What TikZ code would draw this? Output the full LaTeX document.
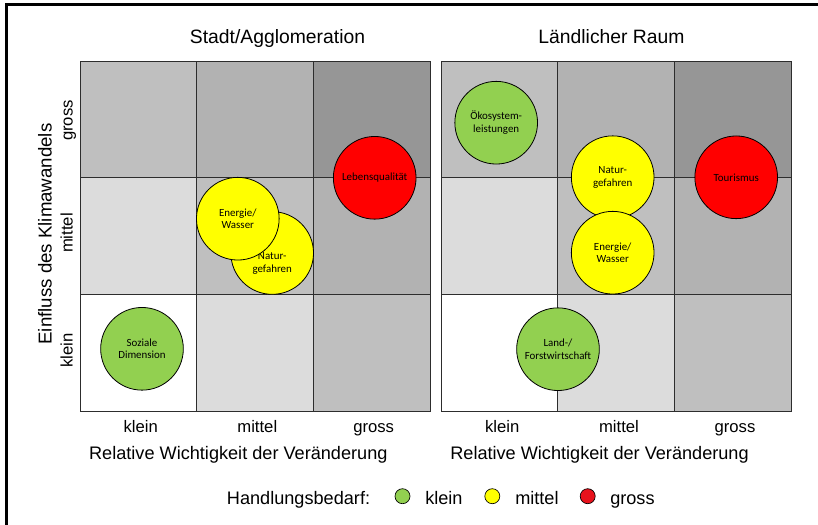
\documentclass[tikz,border=0pt]{standalone}
\usepackage{fontspec}
\setmainfont{Liberation Sans}
\newfontfamily\circfont{Carlito}
\definecolor{cgreen}{RGB}{146,208,80}
\definecolor{cyellow}{RGB}{255,255,0}
\definecolor{cred}{RGB}{255,0,0}
\definecolor{lred}{RGB}{232,18,28}
\definecolor{lv0}{RGB}{255,255,255}
\definecolor{lv1}{RGB}{220,220,220}
\definecolor{lv2}{RGB}{191,191,191}
\definecolor{lv3}{RGB}{178,178,178}
\definecolor{lv4}{RGB}{150,150,150}
\definecolor{gridline}{RGB}{45,45,45}
\begin{document}
\begin{tikzpicture}[x=0.75pt,y=-0.75pt,
  cellbox/.style={rectangle, draw=gridline, line width=0.75pt, minimum width=87.5pt, minimum height=87.5pt, inner sep=0pt, outer sep=0pt},
  bubble/.style={circle, draw=black, line width=0.6pt, minimum size=62pt, inner sep=0pt, font=\circfont\fontsize{8.2}{9.6}\selectfont, align=center, text=black},
  bubbletext/.style={inner sep=0pt, font=\circfont\fontsize{8.2}{9.6}\selectfont, align=center, text=black},
  title/.style={anchor=base, inner sep=0pt, font=\fontsize{14.5}{17}\selectfont},
  axlabel/.style={anchor=base, inner sep=0pt, font=\fontsize{13.6}{16}\selectfont},
  ticklabel/.style={anchor=base, inner sep=0pt, font=\fontsize{12.5}{15}\selectfont},
  legtext/.style={anchor=base west, inner sep=0pt, font=\fontsize{13.6}{16}\selectfont},
  legdot/.style={circle, draw=black, line width=0.5pt, minimum size=11.25pt, inner sep=0pt}
]
\useasboundingbox (0,0) rectangle (818,525);
\fill[white] (0,0) rectangle (818,525);
% outer frame (top and left)
\draw[line width=2.25pt] (818,4.5) -- (6,4.5) -- (6,525);

% grids
\foreach \gx/\gn in {80/L,441/R}{
  \foreach \c in {0,1,2}{
    \foreach \r in {0,1,2}{
      \pgfmathtruncatemacro\lv{\c+2-\r}
      \node[cellbox, fill=lv\lv] (\gn-\c-\r) at ({\gx+\c*116.667+58.333},{61+\r*116.667+58.333}) {};
    }
  }
}

% bubbles left
\node[bubble, fill=cgreen] (soz) at (142,348.8) {Soziale\\Dimension};
\node[bubble, fill=cyellow] (natL) at (272.2,253) {};
\node[bubbletext] (natLtxt) at ([yshift=-8pt]natL.center) {Natur-\\gefahren};
\node[bubble, fill=cyellow] (enL) at (237.8,218.7) {Energie/\\Wasser};
\node[bubble, fill=cred] (leb) at (374.7,177.8) {Lebensqualität};

% bubbles right
\node[bubble, fill=cgreen] (oek) at (496.2,122.7) {Ökosystem-\\leistungen};
\node[bubble, fill=cyellow] (natR) at (612.7,177.2) {Natur-\\gefahren};
\node[bubble, fill=cyellow] (enR) at (612.7,252.7) {Energie/\\Wasser};
\node[bubble, fill=cred] (tour) at (736.2,177.3) {Tourismus};
\node[bubble, fill=cgreen] (land) at (558,349.2) {Land-/\\Forstwirtschaft};

% titles
\node[title] (t1) at (277.5,43.3) {Stadt/Agglomeration};
\node[title] (t2) at (611.5,43.3) {Ländlicher Raum};

% x tick labels
\node[ticklabel] (xl1) at (140.8,432.3) {klein};
\node[ticklabel] (xl2) at (257.3,432.3) {mittel};
\node[ticklabel] (xl3) at (373.7,432.3) {gross};
\node[ticklabel] (xr1) at (502.2,432.3) {klein};
\node[ticklabel] (xr2) at (619,432.3) {mittel};
\node[ticklabel] (xr3) at (735,432.3) {gross};

% x axis labels
\node[axlabel] (axL) at (238.3,459) {Relative Wichtigkeit der Veränderung};
\node[axlabel] (axR) at (599.5,459) {Relative Wichtigkeit der Veränderung};

% y tick labels
\node[ticklabel, rotate=90] (y1) at (72.5,120.5) {gross};
\node[ticklabel, rotate=90] (y2) at (72.5,233) {mittel};
\node[ticklabel, rotate=90] (y3) at (72.5,350.5) {klein};
% y axis label
\node[anchor=base, inner sep=0pt, rotate=90, font=\fontsize{14}{17}\selectfont] (ay) at (51.5,234) {Einfluss des Klimawandels};

% legend
\node[legtext] (lh) at (226.7,504) {Handlungsbedarf:};
\node[legdot, fill=cgreen] (d1) at (402.5,496.2) {};
\node[legtext] (lk) at (425,504) {klein};
\node[legdot, fill=cyellow] (d2) at (492.3,496.2) {};
\node[legtext] (lm) at (515,504) {mittel};
\node[legdot, fill=lred] (d3) at (587.7,496.2) {};
\node[legtext] (lg) at (610,504) {gross};
\end{tikzpicture}
\end{document}
